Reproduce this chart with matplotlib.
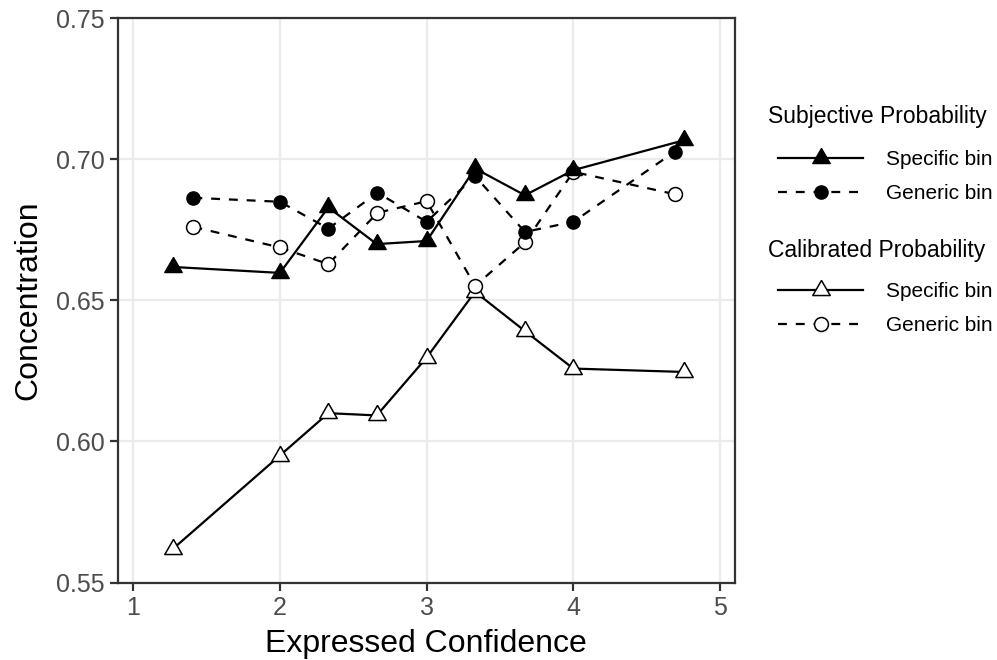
import matplotlib.pyplot as plt
from matplotlib.lines import Line2D

plt.rcParams['font.family'] = ['Liberation Sans', 'DejaVu Sans']

# expressed confidence bins (x) and mean concentration per bin
subj_spec_x = [1.27, 2.0, 2.33, 2.66, 3.0, 3.33, 3.67, 4.0, 4.755]
subj_spec_y = [0.6618, 0.6597, 0.6829, 0.6699, 0.6710, 0.6967, 0.6872, 0.6961, 0.7067]

subj_gen_x = [1.41, 2.0, 2.33, 2.665, 3.0, 3.33, 3.67, 4.0, 4.69]
subj_gen_y = [0.6863, 0.6849, 0.6754, 0.6881, 0.6778, 0.6940, 0.6742, 0.6778, 0.7026]

cal_spec_x = [1.27, 2.0, 2.33, 2.66, 3.0, 3.33, 3.67, 4.0, 4.755]
cal_spec_y = [0.5619, 0.5950, 0.6100, 0.6092, 0.6297, 0.6530, 0.6391, 0.6258, 0.6246]

cal_gen_x = [1.41, 2.0, 2.33, 2.665, 3.0, 3.33, 3.67, 4.0, 4.69]
cal_gen_y = [0.6760, 0.6687, 0.6628, 0.6810, 0.6851, 0.6551, 0.6705, 0.6955, 0.6876]

x_ticks = [1, 2, 3, 4, 5]
y_ticks = [0.55, 0.60, 0.65, 0.70, 0.75]

# equilateral triangle centred on its centroid
tri = [(0, 1), (-0.866, -0.5), (0.866, -0.5), (0, 1)]

fig = plt.figure(figsize=(9.97, 6.6), dpi=100)
ax = fig.add_axes([0.1179, 0.1174, 0.6193, 0.8553])

lw = 1.6
dash = (4, 4)
styles = {
    'subj_spec': dict(color='black', lw=lw, ls='-', marker=tri, ms=14.5,
                      mfc='black', mec='black', mew=1.0),
    'subj_gen': dict(color='black', lw=lw, ls=(0, dash), marker='o', ms=9.5,
                     mfc='black', mec='black', mew=1.0),
    'cal_spec': dict(color='black', lw=lw, ls='-', marker=tri, ms=14.5,
                     mfc='white', mec='black', mew=1.1),
    'cal_gen': dict(color='black', lw=lw, ls=(0, dash), marker='o', ms=10,
                    mfc='white', mec='black', mew=1.1),
}

ax.plot(cal_spec_x, cal_spec_y, **styles['cal_spec'])
ax.plot(cal_gen_x, cal_gen_y, **styles['cal_gen'])
ax.plot(subj_gen_x, subj_gen_y, **styles['subj_gen'])
ax.plot(subj_spec_x, subj_spec_y, **styles['subj_spec'])

ax.set_xlim(0.893, 5.102)
ax.set_ylim(0.55, 0.75)
ax.set_xticks(x_ticks)
ax.set_xticklabels([str(t) for t in x_ticks])
ax.set_yticks(y_ticks)
ax.set_yticklabels(['%.2f' % t for t in y_ticks])

ax.grid(True, color='#EBEBEB', lw=1.6)
ax.set_axisbelow(True)
for sp in ax.spines.values():
    sp.set_color('#333333')
    sp.set_linewidth(1.6)
ax.tick_params(axis='both', length=5.5, width=1.6, color='#333333',
               labelcolor='#4D4D4D', labelsize=18, pad=4)

ax.set_xlabel('Expressed Confidence', fontsize=23, labelpad=7)
ax.set_ylabel('Concentration', fontsize=23, labelpad=9)

# two stacked legends on the right, keys indented under their titles
def key(st):
    return Line2D([], [], **st)

common = dict(frameon=False, handlelength=4.1, fontsize=15,
              labelspacing=0.75, handletextpad=1.1,
              borderaxespad=0, borderpad=0)
groups = [
    ('Subjective Probability', 'subj_spec', 'subj_gen', 0.8242, 0.773),
    ('Calibrated Probability', 'cal_spec', 'cal_gen', 0.6212, 0.573),
]
for title, s1, s2, ty, ly in groups:
    fig.text(0.7703, ty, title, fontsize=16.5, va='center', ha='left')
    fig.legend([key(styles[s1]), key(styles[s2])], ['Specific bin', 'Generic bin'],
               loc='upper left', bbox_to_anchor=(0.7803, ly), **common)

fig.savefig('out.png', dpi=100)
